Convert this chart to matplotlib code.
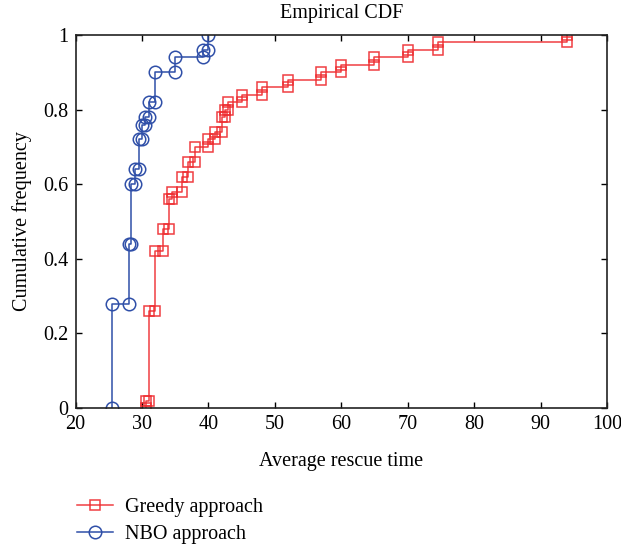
import numpy as np
import matplotlib
matplotlib.use('Agg')
import matplotlib.pyplot as plt

plt.rcParams['font.family'] = ['Liberation Serif', 'DejaVu Serif']
plt.rcParams['font.size'] = 14.5

# jump locations of the empirical CDFs and the level reached after each jump
greedy_t = [30.6, 31.0, 32.0, 33.2, 34.0, 34.6, 36.0, 37.0, 38.0, 40.0, 41.0, 42.0,
            42.5, 43.0, 45.0, 48.0, 52.0, 57.0, 60.0, 65.0, 70.0, 74.5, 94.0]
greedy_F = [0.02, 0.26, 0.42, 0.48, 0.56, 0.58, 0.62, 0.66, 0.70, 0.72, 0.74, 0.78,
            0.80, 0.82, 0.84, 0.86, 0.88, 0.90, 0.92, 0.94, 0.96, 0.98, 1.00]

nbo_t = [25.5, 28.0, 28.4, 29.0, 29.5, 30.0, 30.5, 31.0, 32.0, 35.0, 39.2, 40.0]
nbo_F = [0.28, 0.44, 0.60, 0.64, 0.72, 0.76, 0.78, 0.82, 0.90, 0.94, 0.96, 1.00]

xticks = [20, 30, 40, 50, 60, 70, 80, 90, 100]
yticks = [0, 0.2, 0.4, 0.6, 0.8, 1]
ylabels = ['0', '0.2', '0.4', '0.6', '0.8', '1']


def stairs(t, F):
    t = np.asarray(t)
    F = np.asarray(F)
    xs = np.repeat(t, 2)
    ys = np.column_stack([np.r_[0, F[:-1]], F]).ravel()
    return xs, ys


red = '#ee2a2e'
blue = '#2f4fa8'

fig = plt.figure(figsize=(6.21, 5.46), dpi=100)
ax = fig.add_axes([75.5/621, 1-408/546, (607-75.5)/621, (408-35)/546])

xs, ys = stairs(greedy_t, greedy_F)
ax.plot(xs, ys, '-s', color=red, lw=1.1, ms=7, mfc='none', mew=1.1,
        label='Greedy approach', alpha=0.9)
xs, ys = stairs(nbo_t, nbo_F)
ax.plot(xs, ys, '-o', color=blue, lw=1.1, ms=9, mfc='none', mew=1.1,
        label='NBO approach')

ax.set_xlim(20, 100)
ax.set_ylim(0, 1)
ax.set_xticks(xticks)
ax.set_yticks(yticks)
ax.set_yticklabels(ylabels)
ax.tick_params(direction='in', top=True, right=True, length=4, width=1,
               labelsize=14.5, pad=5)
for s in ax.spines.values():
    s.set_linewidth(1.2)
    s.set_color('#222222')

ax.set_title('Empirical CDF', fontsize=14.5, pad=12)
ax.set_xlabel('Average rescue time', fontsize=14.5, labelpad=13)
ax.set_ylabel('Cumulative frequency', fontsize=14.5, labelpad=8)

fig.legend(loc='lower left', bbox_to_anchor=(77/621, 0.003), frameon=False,
           fontsize=14.5, borderpad=0, handlelength=1.8, handletextpad=0.6,
           labelspacing=0.4, borderaxespad=0)

fig.savefig('out.png', dpi=100)
